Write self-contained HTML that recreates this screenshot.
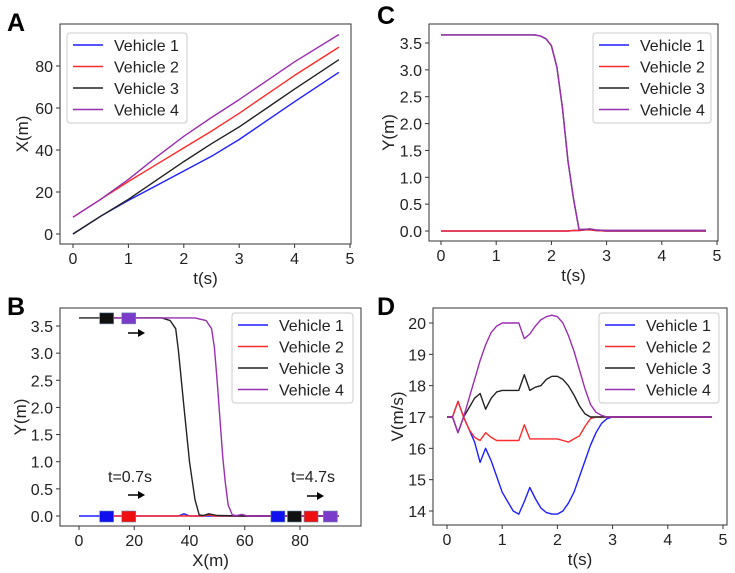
<!DOCTYPE html>
<html><head><meta charset="utf-8"><style>
html,body{margin:0;padding:0;background:#fff}
svg{display:block;font-family:"Liberation Sans","DejaVu Sans",sans-serif}
</style></head><body>
<svg id="fig" width="735" height="573" viewBox="0 0 735 573">
<text x="7" y="31" font-size="25" font-weight="bold">A</text>
<text x="377" y="24" font-size="25" font-weight="bold">C</text>
<text x="7" y="315" font-size="25" font-weight="bold">B</text>
<text x="377" y="315" font-size="25" font-weight="bold">D</text>
</svg>
<script>
const colors=["#1f1fff","#ff2a2a","#222222","#9a2eb0"];
const names=["Vehicle 1","Vehicle 2","Vehicle 3","Vehicle 4"];
// Panel A
const aT=[0,0.5,1,1.5,2,2.5,3,3.5,4,4.8];
const aV1=[0,8.5,16,23,30,37,45,54,63,77];
const aV2=[8,16.5,25,33,41,49,57.5,66.5,75.5,89];
const aV3=[0,8.5,16.5,25.5,34.5,43,51,60,69,83];
const aV4=[8,16.5,26,36.5,46.5,55.5,64,73,82,95];
const aXTicks=[0,1,2,3,4,5];
const aYTicks=[0,20,40,60,80];
// Panel C
const cT=[0,1.5,1.7,1.8,1.9,2.0,2.1,2.2,2.3,2.4,2.5,2.6,2.7,2.8,3,4.8];
const cV1=[0,0,0,0,0,0,0,0,0,0.01,0.01,0.02,0.03,0.01,0,0];
const cV2=[0,0,0,0,0,0,0,0,0,0.01,0.01,0.02,0.02,0.01,0,0];
const cV3=[3.65,3.65,3.65,3.63,3.58,3.45,3.05,2.3,1.3,0.6,0.03,0.03,0.04,0.02,0.01,0.01];
const cV4=[3.65,3.65,3.65,3.63,3.58,3.45,3.05,2.3,1.3,0.6,0.03,0.03,0.04,0.02,0.01,0.01];
const cXTicks=[0,1,2,3,4,5];
const cYTicks=[0,0.5,1,1.5,2,2.5,3,3.5];
// Panel B
const bX1=[0,36,38,40,94];
const bY1=[0,0,0.04,0,0];
const bX2=[8,45,47,49,94];
const bY2=[0,0,0.02,0,0];
const bX3=[0,30,33,35,36,38,40,42,43.5,45,47,50,60,94];
const bY3=[3.65,3.65,3.6,3.45,3.05,2,1,0.3,0.02,0.01,0.04,0.01,0,0];
const bX4=[8,42,46,48,49,50,51,52,53,54,55.5,57,59,61,94];
const bY4=[3.65,3.65,3.6,3.45,3.1,2.5,1.8,1.1,0.6,0.2,0.02,0.01,0.03,0,0];
const bMarkX=[10,18,10,18,72,84,78,91];
const bMarkY=[0,0,3.65,3.65,0,0,0,0];
const bMarkV=[0,1,2,3,0,1,2,3];
const bXTicks=[0,20,40,60,80];
const bYTicks=[0,0.5,1,1.5,2,2.5,3,3.5];
// Panel D
const dT=[0,0.1,0.2,0.3,0.4,0.5,0.6,0.7,0.8,0.9,1.0,1.1,1.2,1.3,1.4,1.5,1.6,1.7,1.8,1.9,2.0,2.1,2.2,2.3,2.4,2.5,2.6,2.7,2.8,2.9,3.0,4.8];
const dV1=[17,17,17.5,17,16.6,16.2,15.55,16.0,15.6,15.1,14.6,14.3,14.0,13.9,14.3,14.75,14.4,14.1,13.95,13.9,13.9,14.0,14.25,14.6,15.1,15.6,16.1,16.5,16.8,16.95,17,17];
const dV2=[17,17,17.5,17,16.6,16.35,16.25,16.5,16.35,16.25,16.25,16.25,16.25,16.25,16.75,16.3,16.3,16.3,16.3,16.3,16.3,16.25,16.2,16.3,16.4,16.7,16.95,17,17,17,17,17];
const dV3=[17,17,16.5,17,17.3,17.6,17.75,17.25,17.6,17.8,17.85,17.85,17.85,17.85,18.35,17.85,17.95,18.0,18.2,18.3,18.3,18.2,18.0,17.7,17.35,17.1,17.0,17,17,17,17,17];
const dV4=[17,17,16.5,17,17.6,18.2,18.8,19.3,19.7,19.9,20.0,20.0,20.0,20.0,19.5,19.65,19.9,20.1,20.2,20.25,20.2,20.0,19.6,19.1,18.5,17.9,17.4,17.15,17.05,17,17,17];
const dXTicks=[0,1,2,3,4,5];
const dYTicks=[14,15,16,17,18,19,20];

const svg=document.getElementById('fig');
const NS="http://www.w3.org/2000/svg";
function mk(tag,attrs,parent){const e=document.createElementNS(NS,tag);for(const k in attrs)e.setAttribute(k,attrs[k]);(parent||svg).appendChild(e);return e;}

function panel(p){
  const g=mk('g',{});
  
  
  const sx=v=>p.x0px+(v-p.x0)*(p.x1px-p.x0px)/(p.x1-p.x0);
  const sy=v=>p.y0px+(v-p.y0)*(p.y1px-p.y0px)/(p.y1-p.y0);
  const fr=mk('rect',{x:p.bx,y:p.by,width:p.bw,height:p.bh,fill:'none',stroke:'#333','stroke-width':1},g);
  
  
  p.xt.forEach(v=>{
    const X=sx(v);
    mk('line',{x1:X,x2:X,y1:p.by+p.bh,y2:p.by+p.bh+4,stroke:'#333'},g);
    const t=mk('text',{x:X,y:p.by+p.bh+20,'font-size':16,'text-anchor':'middle',fill:'#222'},g);
    t.textContent=p.xf(v);
    
    
  });
  p.yt.forEach(v=>{
    const Y=sy(v);
    mk('line',{x1:p.bx-4,x2:p.bx,y1:Y,y2:Y,stroke:'#333'},g);
    const t=mk('text',{x:p.bx-7,y:Y+6,'font-size':16,'text-anchor':'end',fill:'#222'},g);
    t.textContent=p.yf(v);
    
    
  });
  const xl=mk('text',{x:p.bx+p.bw/2,y:p.by+p.bh+40,'font-size':17,'text-anchor':'middle',fill:'#222'},g);
  xl.textContent=p.xlab;
  
  
  const yl=mk('text',{x:0,y:0,'font-size':17,'text-anchor':'middle',fill:'#222',transform:`translate(${p.ylx},${p.by+p.bh/2}) rotate(-90)`},g);
  yl.textContent=p.ylab;
  
  
  p.series.forEach((s,i)=>{
    const d=s.x.map((xv,k)=>(k?'L':'M')+sx(xv).toFixed(1)+','+sy(s.y[k]).toFixed(1)).join('');
    const pa=mk('path',{d:d,fill:'none',stroke:colors[i],'stroke-width':1.4,'stroke-linejoin':'round'},g);
    
    
  });
  const L=p.leg;
  const lg=mk('g',{},g);
  
  
  mk('rect',{x:L.x,y:L.y,width:L.w,height:90,rx:3,fill:'#fff','fill-opacity':0.85,stroke:'#ccc'},lg);
  names.forEach((n,i)=>{
    const yy=L.y+12+i*21.5;
    mk('line',{x1:L.x+6,x2:L.x+36,y1:yy,y2:yy,stroke:colors[i],'stroke-width':1.5},lg);
    const t=mk('text',{x:L.x+47,y:yy+6,'font-size':16,fill:'#222'},lg);
    t.textContent=n;
    
    
  });
  return {g,sx,sy};
}
const f0=v=>String(v), f1=v=>v.toFixed(1);
panel({id:'a',bx:60,by:24,bw:291,bh:220,x0:0,x1:5,x0px:73,x1px:350,y0:0,y1:80,y0px:234,y1px:66,
  xt:aXTicks,yt:aYTicks,xf:f0,yf:f0,xlab:'t(s)',ylab:'X(m)',ylx:28,
  series:[{x:aT,y:aV1},{x:aT,y:aV2},{x:aT,y:aV3},{x:aT,y:aV4}],leg:{x:67,y:33,w:120}});
panel({id:'c',bx:429,by:24,bw:289,bh:217,x0:0,x1:5,x0px:441,x1px:717,y0:0,y1:3.5,y0px:231,y1px:43,
  xt:cXTicks,yt:cYTicks,xf:f0,yf:f1,xlab:'t(s)',ylab:'Y(m)',ylx:394,
  series:[{x:cT,y:cV1},{x:cT,y:cV2},{x:cT,y:cV3},{x:cT,y:cV4}],leg:{x:593,y:33,w:118}});
const B=panel({id:'b',bx:60,by:308,bw:301,bh:218,x0:0,x1:80,x0px:79,x1px:300,y0:0,y1:3.5,y0px:516,y1px:326,
  xt:bXTicks,yt:bYTicks,xf:f0,yf:f1,xlab:'X(m)',ylab:'Y(m)',ylx:26,
  series:[{x:bX1,y:bY1},{x:bX2,y:bY2},{x:bX3,y:bY3},{x:bX4,y:bY4}],leg:{x:232,y:313,w:121}});
const mcol=["#1010ee","#ee1010","#111111","#7a3cc8"];
bMarkX.forEach((xv,i)=>{
  const r=mk('rect',{x:B.sx(xv)-7,y:B.sy(bMarkY[i])-5,width:14,height:11,fill:mcol[bMarkV[i]],stroke:'#6a8ab0','stroke-width':0.6},B.g);
  
  
});
function arrow(x,y,name){
  const a=mk('g',{},B.g);
  
  
  mk('line',{x1:x,x2:x+12,y1:y,y2:y,stroke:'#000','stroke-width':1.5},a);
  mk('path',{d:`M${x+10},${y-4}L${x+17},${y}L${x+10},${y+4}Z`,fill:'#000'},a);
}
arrow(128,333,'direction-arrow-top');
arrow(128,495,'direction-arrow-left');
arrow(307,496,'direction-arrow-right');
const t1=mk('text',{x:108,y:482,'font-size':16,fill:'#222'},B.g);
t1.textContent='t=0.7s';


const t2=mk('text',{x:291,y:482,'font-size':16,fill:'#222'},B.g);
t2.textContent='t=4.7s';


panel({id:'d',bx:433,by:308,bw:294,bh:217,x0:0,x1:5,x0px:447,x1px:723,y0:14,y1:20,y0px:511,y1px:323,
  xt:dXTicks,yt:dYTicks,xf:f0,yf:f0,xlab:'t(s)',ylab:'V(m/s)',ylx:403,
  series:[{x:dT,y:dV1},{x:dT,y:dV2},{x:dT,y:dV3},{x:dT,y:dV4}],leg:{x:599,y:313,w:120}});
</script>
</body></html>
